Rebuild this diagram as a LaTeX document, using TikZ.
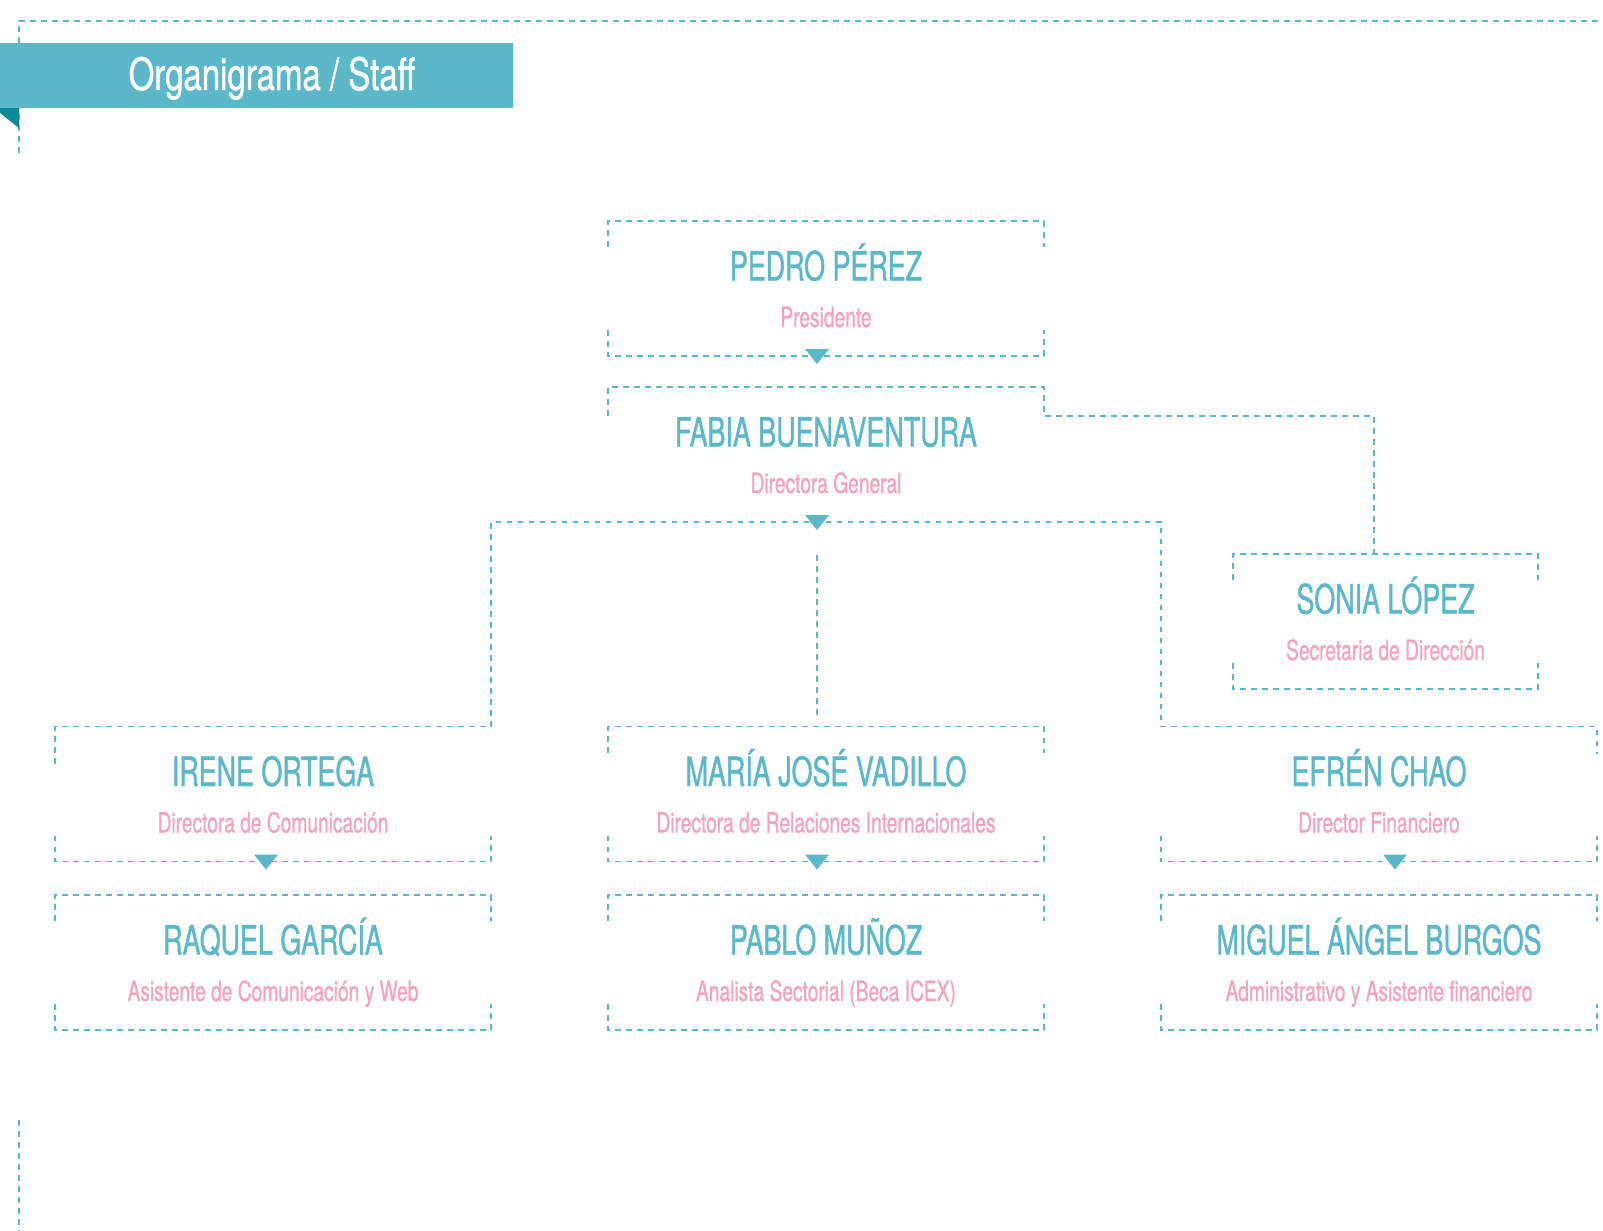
\documentclass[tikz,border=0pt]{standalone}
\usepackage{fontspec}
\usepackage{xcolor}
\usepackage{tikz}
\newfontfamily\cond{TeX Gyre Heros}[FakeStretch=0.665,FakeBold=1]
\newfontfamily\condr{TeX Gyre Heros}[FakeStretch=0.69,FakeBold=0.8]
\newfontfamily\condt{TeX Gyre Heros}[FakeStretch=0.74,FakeBold=1]
\definecolor{turquesa}{HTML}{5BB8C9}
\definecolor{rosa}{HTML}{F4A2BE}
\definecolor{petroleo}{HTML}{0B8A96}

\begin{document}
\begin{tikzpicture}[x=0.5pt,y=-0.5pt,
		linea/.style={draw=turquesa,line width=0.7pt,dash pattern=on 2.9pt off 2.6pt},
		caja/.style={minimum width=218pt,minimum height=67.5pt,inner sep=0pt,outer sep=0pt},
		nombre/.style={text=turquesa,font=\cond\fontsize{20.2}{22}\selectfont,anchor=base,inner sep=0pt},
		cargo/.style={text=rosa,font=\condr\fontsize{13.9}{16}\selectfont,anchor=base,inner sep=0pt}]
		\def\tapa#1{\draw[linea] ([yshift=-13pt]#1.north west) -- (#1.north west) -- (#1.north east) -- ([yshift=-13pt]#1.north east);}
		\def\base#1{\draw[linea] ([yshift=13pt]#1.south west) -- (#1.south west) -- (#1.south east) -- ([yshift=13pt]#1.south east);}
		\def\flecha#1{\fill[turquesa] (#1) ++(-12,-7) -- ++(24,0) -- ++(-12,15) -- cycle;}
		\def\textos#1#2#3{\node[nombre] (#1-n) at ([yshift=-29.75pt]#1.north) {#2};
			\node[cargo] (#1-c) at ([yshift=-53pt]#1.north) {#3};}
		\useasboundingbox (0,0) rectangle (1603,1231);
		% marco y cabecera
		\draw[linea] (19,153) -- (19,21) -- (1603,21);
		\draw[linea] (19,1120) -- (19,1231);
		\fill[turquesa] (0,43) rectangle (513,108);
		\fill[petroleo] (0,108) -- (19,108) -- (19,128) -- (0,113) -- cycle;
		\node[text=white,font=\condt\fontsize{22.3}{24}\selectfont,anchor=base,inner sep=0pt] (titulo) at (272,90) {Organigrama / Staff};
		% cajas
		\node[caja] (pedro) at (826,288.5) {};
		\node[caja] (fabia) at (826,454.5) {};
		\node[caja,minimum width=152.5pt] (sonia) at (1385.5,621.5) {};
		\node[caja] (irene) at (273,794) {};
		\node[caja] (mariajose) at (826,794) {};
		\node[caja] (efren) at (1379,794) {};
		\node[caja] (raquel) at (273,962.5) {};
		\node[caja] (pablo) at (826,962.5) {};
		\node[caja] (miguel) at (1379,962.5) {};
		\tapa{pedro} \base{pedro}
		\draw[linea] ([yshift=-14.5pt]fabia.north west) -- (fabia.north west) -- (fabia.north east) -- ++(0,29) -| ([xshift=-5.75pt]sonia.north);
		\tapa{sonia} \base{sonia}
		\draw[linea] ([yshift=-18.5pt]irene.north west) -- (irene.north west) -- (irene.north east)
			-- (irene.north east |- fabia.south) -- (efren.north west |- fabia.south)
			-- (efren.north west) -- (efren.north east) -- ([yshift=-13.5pt]efren.north east);
		\draw[linea] ([xshift=-4.5pt,yshift=-16.5pt]fabia.south) -- ([xshift=-4.5pt,yshift=5.5pt]mariajose.north);
		\tapa{mariajose}
		\base{irene} \base{mariajose} \base{efren}
		\tapa{raquel} \base{raquel}
		\tapa{pablo} \base{pablo}
		\tapa{miguel} \base{miguel}
		% flechas
		\flecha{[xshift=-4.5pt]pedro.south}
		\flecha{[xshift=-4.5pt]fabia.south}
		\flecha{[xshift=-3.5pt]irene.south}
		\flecha{[xshift=-4.5pt]mariajose.south}
		\flecha{[xshift=8pt]efren.south}
		% textos
		\textos{pedro}{PEDRO PÉREZ}{Presidente}
		\textos{fabia}{FABIA BUENAVENTURA}{Directora General}
		\textos{sonia}{SONIA LÓPEZ}{Secretaria de Dirección}
		\textos{irene}{IRENE ORTEGA}{Directora de Comunicación}
		\textos{mariajose}{MARÍA JOSÉ VADILLO}{Directora de Relaciones Internacionales}
		\textos{efren}{EFRÉN CHAO}{Director Financiero}
		\textos{raquel}{RAQUEL GARCÍA}{Asistente de Comunicación y Web}
		\textos{pablo}{PABLO MUÑOZ}{Analista Sectorial (Beca ICEX)}
		\textos{miguel}{MIGUEL ÁNGEL BURGOS}{Administrativo y Asistente financiero}
	\end{tikzpicture}
\end{document}
